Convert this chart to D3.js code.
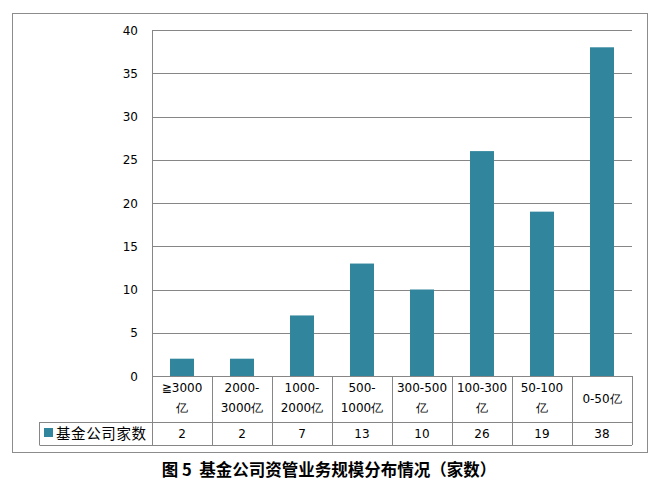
<!DOCTYPE html>
<html><head><meta charset="utf-8">
<script src="https://cdn.jsdelivr.net/npm/d3@7"></script>
<style>body{margin:0;background:#fff}</style>
</head><body>
<svg id="c" width="661" height="488"></svg>
<script>
const categories = [["≧3000","亿"],["2000-","3000亿"],["1000-","2000亿"],["500-","1000亿"],["300-500","亿"],["100-300","亿"],["50-100","亿"],["0-50亿"]];
const values = [2,2,7,13,10,26,19,38];
const yTicks = [0,5,10,15,20,25,30,35,40];
const seriesName = "基金公司家数";
const title = "图 5  基金公司资管业务规模分布情况（家数）";

const svg = d3.select("#c");
const L=152, R=632, T=30, B=376, row1=422, row2=445;
const gridC="#868686", barC="#31859c", font="DejaVu Sans";

svg.append("rect").attr("x",12.5).attr("y",13.5).attr("width",635).attr("height",439)
  .attr("fill","none").attr("stroke","#8c8c8c");

const x = d3.scaleBand().domain(d3.range(categories.length)).range([L,R]).paddingInner(0.6).paddingOuter(0.3);
const y = d3.scaleLinear().domain([0,40]).range([B,T]);

// gridlines
svg.append("g").selectAll("line").data(yTicks).join("line")
  .attr("x1",L).attr("x2",R).attr("y1",d=>Math.round(y(d))+0.5).attr("y2",d=>Math.round(y(d))+0.5)
  .attr("stroke",gridC);
svg.append("line").attr("x1",L+0.5).attr("x2",L+0.5).attr("y1",T).attr("y2",row2).attr("stroke",gridC);

// y labels
svg.append("g").selectAll("text").data(yTicks).join("text")
  .attr("x",138).attr("y",d=>y(d)+4.5).attr("text-anchor","end")
  .attr("font-family",font).attr("font-size",12).attr("fill","#000").text(d=>d);

// bars
svg.append("g").selectAll("rect").data(values).join("rect")
  .attr("x",(d,i)=>x(i)).attr("width",x.bandwidth())
  .attr("y",d=>y(d)).attr("height",d=>y(0)-y(d)).attr("fill",barC);

// table
const step = x.step();
const bounds = d3.range(categories.length+1).map(i=>L+i*step);
svg.append("g").selectAll("line").data(bounds.slice(1)).join("line")
  .attr("x1",d=>Math.round(d)+0.5).attr("x2",d=>Math.round(d)+0.5).attr("y1",B).attr("y2",row2).attr("stroke",gridC);
svg.append("line").attr("x1",39.5).attr("x2",R).attr("y1",row1+0.5).attr("y2",row1+0.5).attr("stroke",gridC);
svg.append("line").attr("x1",39.5).attr("x2",R).attr("y1",row2+0.5).attr("y2",row2+0.5).attr("stroke",gridC);
svg.append("line").attr("x1",39.5).attr("x2",39.5).attr("y1",row1).attr("y2",row2).attr("stroke",gridC);

const lab = svg.append("g").selectAll("text").data(categories).join("text")
  .attr("text-anchor","middle").attr("font-family",font).attr("font-size",12).attr("fill","#000");
lab.each(function(d,i){
  const t=d3.select(this); const cx=x(i)+x.bandwidth()/2;
  if(d.length===1){ t.append("tspan").attr("x",cx).attr("y",403).text(d[0]); }
  else { d.forEach((s,j)=>t.append("tspan").attr("x",cx).attr("y",392+j*20).text(s)); }
});
svg.append("g").selectAll("text").data(values).join("text")
  .attr("x",(d,i)=>x(i)+x.bandwidth()/2).attr("y",438).attr("text-anchor","middle")
  .attr("font-family",font).attr("font-size",12).attr("fill","#000").text(d=>d);

// legend
svg.append("rect").attr("x",44).attr("y",428).attr("width",9).attr("height",9).attr("fill",barC);
svg.append("text").attr("x",56).attr("y",438.5).attr("font-family","Noto Sans CJK SC").attr("font-size",14.5)
  .attr("letter-spacing",0.6).attr("fill","#000").text(seriesName);

// title
svg.append("text").attr("x",329).attr("y",476).attr("text-anchor","middle").style("white-space","pre")
  .attr("font-family","Noto Sans CJK SC").attr("font-weight","bold").attr("font-size",16.5).attr("fill","#000").text(title);
</script>
</body></html>
